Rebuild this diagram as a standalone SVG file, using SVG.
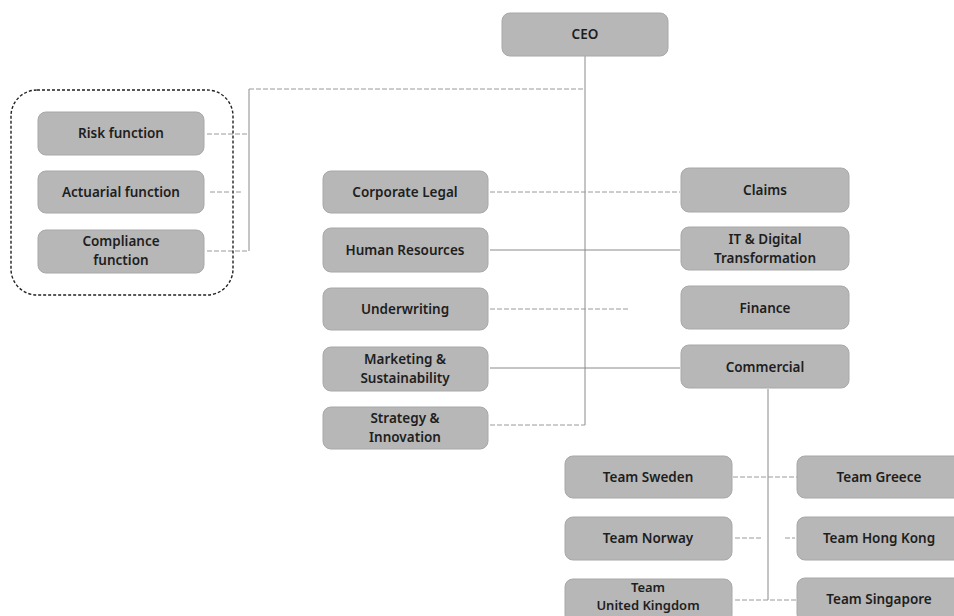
<svg xmlns="http://www.w3.org/2000/svg" width="954" height="616" viewBox="0 0 954 616">
<defs>
<style>
.box{fill:#b7b7b7;stroke:#a8a8a8;stroke-width:1}
.t{font-family:"Noto Sans","Open Sans",sans-serif;font-size:13.5px;font-weight:600;fill:#1e1e1e;text-anchor:middle}
.s{font-size:13px}
.c{fill:none;stroke:#8a8a8a;stroke-width:1}
.cd{fill:none;stroke:#9a9a9a;stroke-width:1;stroke-dasharray:5 2}
.grp{fill:none;stroke:#222;stroke-width:1.4;stroke-dasharray:3 2}
</style>
</defs>
<rect width="954" height="616" fill="#fff"/>
<g id="connectors">
<path class="c" d="M585 56V425"/>
<path class="cd" d="M249 89H585"/>
<path class="c" d="M249 89V251"/>
<path class="cd" d="M207 134H249"/>
<path class="cd" d="M210 192H230M236 192H242"/>
<path class="cd" d="M207 251H249"/>
<path class="cd" d="M490 192H680"/>
<path class="c" d="M490 250H680"/>
<path class="cd" d="M490 309H628"/>
<path class="c" d="M490 368H680"/>
<path class="cd" d="M490 425H585"/>
<path class="c" d="M768 389V600"/>
<path class="cd" d="M733 477H797"/>
<path class="cd" d="M735 538H762M785 538H795"/>
<path class="cd" d="M735 600H797"/>
</g>
<rect id="compliance-group" class="grp" x="11" y="90" width="222" height="205" rx="26"/>
<g id="ceo"><rect class="box" x="502" y="13" width="166" height="43" rx="8"/><text class="t" x="585" y="39">CEO</text></g>
<g id="risk"><rect class="box" x="38" y="112" width="166" height="43" rx="8"/><text class="t" x="121" y="138">Risk function</text></g>
<g id="actuarial"><rect class="box" x="38" y="171" width="166" height="42" rx="8"/><text class="t" x="121" y="197">Actuarial function</text></g>
<g id="compliance"><rect class="box" x="38" y="230" width="166" height="43" rx="8"/><text class="t" x="121" y="246">Compliance</text><text class="t" x="121" y="265">function</text></g>
<g id="legal"><rect class="box" x="323" y="171" width="165" height="42" rx="8"/><text class="t" x="405" y="197">Corporate Legal</text></g>
<g id="hr"><rect class="box" x="323" y="228" width="165" height="44" rx="8"/><text class="t" x="405" y="255">Human Resources</text></g>
<g id="underwriting"><rect class="box" x="323" y="288" width="165" height="42" rx="8"/><text class="t" x="405" y="314">Underwriting</text></g>
<g id="marketing"><rect class="box" x="323" y="347" width="165" height="44" rx="8"/><text class="t" x="405" y="364">Marketing &amp;</text><text class="t" x="405" y="383">Sustainability</text></g>
<g id="strategy"><rect class="box" x="323" y="407" width="165" height="42" rx="8"/><text class="t" x="405" y="423">Strategy &amp;</text><text class="t" x="405" y="442">Innovation</text></g>
<g id="claims"><rect class="box" x="681" y="168" width="168" height="44" rx="8"/><text class="t" x="765" y="195">Claims</text></g>
<g id="it"><rect class="box" x="681" y="227" width="168" height="43" rx="8"/><text class="t" x="765" y="244">IT &amp; Digital</text><text class="t" x="765" y="263">Transformation</text></g>
<g id="finance"><rect class="box" x="681" y="286" width="168" height="43" rx="8"/><text class="t" x="765" y="313">Finance</text></g>
<g id="commercial"><rect class="box" x="681" y="345" width="168" height="43" rx="8"/><text class="t" x="765" y="372">Commercial</text></g>
<g id="sweden"><rect class="box" x="565" y="456" width="167" height="42" rx="8"/><text class="t" x="648" y="482">Team Sweden</text></g>
<g id="norway"><rect class="box" x="565" y="517" width="167" height="43" rx="8"/><text class="t" x="648" y="543">Team Norway</text></g>
<g id="uk"><rect class="box" x="565" y="579" width="167" height="44" rx="8"/><text class="t s" x="648" y="592">Team</text><text class="t s" x="648" y="610">United Kingdom</text></g>
<g id="greece"><rect class="box" x="797" y="456" width="167" height="42" rx="8"/><text class="t" x="879" y="482">Team Greece</text></g>
<g id="hongkong"><rect class="box" x="797" y="517" width="167" height="43" rx="8"/><text class="t" x="879" y="543">Team Hong Kong</text></g>
<g id="singapore"><rect class="box" x="797" y="578" width="167" height="44" rx="8"/><text class="t" x="879" y="604">Team Singapore</text></g>
</svg>
